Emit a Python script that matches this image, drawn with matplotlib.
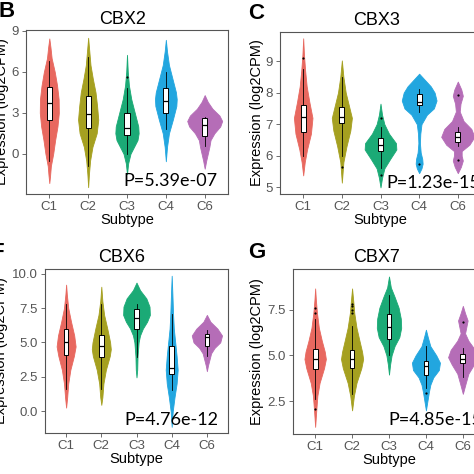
import matplotlib
matplotlib.use("Agg")
import matplotlib.pyplot as plt
import numpy as np

plt.rcParams['font.family'] = ['Liberation Sans', 'DejaVu Sans']

subtypes = ["C1", "C2", "C3", "C4", "C6"]
colors = ["#E8685F", "#A5A020", "#1BAA76", "#22A6DF", "#B56DB7"]

# ---------------- CBX2 ----------------
cbx2_y = [
    [8.45, 7.8, 7.0, 6.0, 5.0, 4.0, 3.0, 2.0, 1.0, 0.0, -0.9, -1.6, -2.15],
    [8.5, 7.5, 6.5, 5.5, 4.5, 3.5, 2.5, 1.5, 0.5, -0.5, -1.5, -2.45],
    [7.25, 6.0, 5.0, 4.0, 3.0, 2.0, 1.5, 1.0, 0.5, 0.0, -0.7, -1.5],
    [8.35, 7.5, 6.5, 5.5, 4.5, 4.0, 3.5, 2.5, 1.5, 0.5, -0.55],
    [4.3, 3.8, 3.3, 2.8, 2.4, 2.0, 1.5, 1.0, 0.5, 0.0, -0.5, -1.1],
]
cbx2_w = [
    [0, 0.03, 0.06, 0.14, 0.20, 0.24, 0.245, 0.21, 0.15, 0.10, 0.04, 0.02, 0],
    [0, 0.03, 0.06, 0.12, 0.19, 0.23, 0.26, 0.22, 0.11, 0.05, 0.02, 0],
    [0, 0.02, 0.05, 0.11, 0.20, 0.29, 0.30, 0.27, 0.18, 0.09, 0.03, 0],
    [0, 0.03, 0.08, 0.17, 0.26, 0.28, 0.27, 0.18, 0.08, 0.03, 0],
    [0, 0.08, 0.20, 0.38, 0.45, 0.40, 0.25, 0.15, 0.12, 0.08, 0.04, 0],
]
cbx2_q1 = [2.45, 1.9, 1.4, 3.0, 1.3]
cbx2_med = [3.7, 2.9, 1.9, 3.9, 2.1]
cbx2_q3 = [4.9, 4.2, 3.0, 4.8, 2.6]
cbx2_lo = [-0.5, -0.9, 0.0, 1.8, 0.6]
cbx2_hi = [6.8, 7.1, 4.8, 6.0, 2.7]
cbx2_out = [[], [], [5.6], [], []]

# ---------------- CBX3 ----------------
cbx3_y = [
    [9.72, 9.2, 8.7, 8.2, 7.7, 7.2, 6.7, 6.2, 5.8, 5.38],
    [9.02, 8.5, 8.0, 7.5, 7.2, 6.8, 6.3, 5.8, 5.15],
    [7.65, 7.3, 7.0, 6.7, 6.4, 6.2, 5.9, 5.6, 5.3, 5.0],
    [8.6, 8.4, 8.2, 8.0, 7.75, 7.5, 7.3, 7.0, 6.7, 6.4, 6.1, 5.9, 5.75, 5.6, 5.45],
    [8.35, 8.1, 7.9, 7.65, 7.4, 7.1, 6.85, 6.6, 6.35, 6.15, 6.0, 5.85, 5.65, 5.45],
]
cbx3_w = [
    [0, 0.02, 0.05, 0.09, 0.16, 0.24, 0.20, 0.10, 0.04, 0],
    [0, 0.04, 0.10, 0.20, 0.26, 0.22, 0.12, 0.04, 0],
    [0, 0.04, 0.10, 0.22, 0.40, 0.41, 0.25, 0.10, 0.04, 0],
    [0, 0.15, 0.30, 0.40, 0.45, 0.38, 0.20, 0.06, 0.03, 0.02, 0.04, 0.08, 0.09, 0.06, 0],
    [0, 0.09, 0.13, 0.07, 0.05, 0.15, 0.35, 0.43, 0.30, 0.10, 0.10, 0.13, 0.08, 0],
]
cbx3_q1 = [6.75, 7.05, 6.15, 7.6, 6.45]
cbx3_med = [7.22, 7.22, 6.35, 7.7, 6.6]
cbx3_q3 = [7.6, 7.55, 6.55, 7.95, 6.75]
cbx3_lo = [6.0, 6.0, 5.6, 7.4, 6.3]
cbx3_hi = [8.75, 8.5, 6.9, 8.1, 6.9]
cbx3_out = [[9.1], [5.65], [7.2, 5.4], [5.75], [7.92, 5.87]]

# ---------------- CBX6 ----------------
cbx6_y = [
    [9.2, 8.5, 7.5, 6.5, 5.5, 4.7, 4.0, 3.0, 2.0, 1.0, 0.25],
    [9.05, 8.0, 7.0, 6.0, 5.0, 4.5, 4.0, 3.0, 2.0, 1.0, 0.45],
    [9.35, 8.8, 8.2, 7.6, 7.0, 6.5, 6.0, 5.5, 5.0, 4.0, 3.0, 2.45],
    [9.85, 8.5, 7.0, 6.0, 5.0, 4.0, 3.0, 2.0, 1.0, 0.0, -1.15],
    [7.0, 6.5, 6.0, 5.5, 5.0, 4.6, 4.2, 3.7, 3.3, 2.9],
]
cbx6_w = [
    [0, 0.02, 0.06, 0.14, 0.23, 0.27, 0.22, 0.12, 0.06, 0.03, 0],
    [0, 0.03, 0.08, 0.17, 0.25, 0.27, 0.24, 0.13, 0.06, 0.03, 0],
    [0, 0.10, 0.28, 0.37, 0.38, 0.30, 0.18, 0.10, 0.06, 0.03, 0.02, 0],
    [0, 0.02, 0.04, 0.06, 0.10, 0.14, 0.17, 0.14, 0.08, 0.03, 0],
    [0, 0.10, 0.30, 0.43, 0.38, 0.22, 0.12, 0.07, 0.03, 0],
]
cbx6_q1 = [4.1, 3.9, 6.0, 2.7, 4.7]
cbx6_med = [5.05, 4.7, 6.8, 3.1, 5.4]
cbx6_q3 = [6.0, 5.5, 7.45, 4.7, 5.6]
cbx6_lo = [1.6, 1.6, 3.9, 1.5, 4.0]
cbx6_hi = [7.8, 7.8, 7.8, 7.1, 5.9]
cbx6_out = [[], [], [], [], []]

# ---------------- CBX7 ----------------
cbx7_y = [
    [8.65, 8.0, 7.3, 6.5, 5.8, 5.2, 4.8, 4.3, 3.5, 2.8, 2.0, 1.1],
    [8.65, 8.0, 7.3, 6.5, 5.8, 5.2, 4.8, 4.3, 3.5, 2.8, 2.0],
    [9.3, 8.7, 8.2, 7.6, 7.0, 6.5, 6.0, 5.5, 5.0, 4.5, 3.95],
    [6.4, 6.0, 5.5, 5.0, 4.6, 4.2, 3.8, 3.4, 3.0, 2.5, 2.0],
    [7.7, 7.3, 6.9, 6.5, 6.2, 5.8, 5.3, 4.9, 4.5, 4.0, 3.5, 2.9],
]
cbx7_w = [
    [0, 0.02, 0.05, 0.10, 0.18, 0.26, 0.29, 0.24, 0.12, 0.06, 0.03, 0],
    [0, 0.03, 0.06, 0.12, 0.20, 0.27, 0.30, 0.25, 0.12, 0.05, 0],
    [0, 0.05, 0.15, 0.26, 0.32, 0.33, 0.28, 0.15, 0.07, 0.03, 0],
    [0, 0.05, 0.12, 0.28, 0.38, 0.35, 0.20, 0.12, 0.08, 0.04, 0],
    [0, 0.06, 0.13, 0.09, 0.06, 0.15, 0.33, 0.40, 0.30, 0.15, 0.08, 0],
]
cbx7_q1 = [4.25, 4.3, 5.9, 3.95, 4.6]
cbx7_med = [4.8, 4.8, 6.55, 4.4, 4.8]
cbx7_q3 = [5.35, 5.3, 7.25, 4.7, 5.1]
cbx7_lo = [2.6, 2.9, 5.0, 3.2, 3.8]
cbx7_hi = [7.0, 6.6, 8.3, 5.5, 5.4]
cbx7_out = [[7.3, 7.6, 2.1], [7.3, 7.5, 7.7, 7.8], [], [2.95], [6.8]]

panels = [
    dict(gene="CBX2", label="B", y=cbx2_y, w=cbx2_w, q1=cbx2_q1, med=cbx2_med, q3=cbx2_q3,
         lo=cbx2_lo, hi=cbx2_hi, out=cbx2_out, p="P=5.39e-07",
         rect=(26, 194, 202, 164), ylim=(-2.95, 9.07), yticks=[0, 3, 6, 9], yfmt="{:.0f}",
         ylab_off=-17, ptxt=(0.95, 0.046, 'right'), title_xy=(123, 19.5), lab_xy=(-2, 1)),
    dict(gene="CBX3", label="C", y=cbx3_y, w=cbx3_w, q1=cbx3_q1, med=cbx3_med, q3=cbx3_q3,
         lo=cbx3_lo, hi=cbx3_hi, out=cbx3_out, p="P=1.23e-15",
         rect=(280, 194, 201, 162), ylim=(4.79, 9.92), yticks=[5, 6, 7, 8, 9], yfmt="{:.0f}",
         ylab_off=-16, ptxt=(0.527, 0.037, 'left'), title_xy=(377, 20.5), lab_xy=(248, 3)),
    dict(gene="CBX6", label="F", y=cbx6_y, w=cbx6_w, q1=cbx6_q1, med=cbx6_med, q3=cbx6_q3,
         lo=cbx6_lo, hi=cbx6_hi, out=cbx6_out, p="P=4.76e-12",
         rect=(45, 433, 183, 164), ylim=(-1.6, 10.34), yticks=[0, 2.5, 5, 7.5, 10], yfmt="{:.1f}",
         ylab_off=-37, ptxt=(0.945, 0.049, 'right'), title_xy=(122, 258), lab_xy=(-9, 242)),
    dict(gene="CBX7", label="G", y=cbx7_y, w=cbx7_w, q1=cbx7_q1, med=cbx7_med, q3=cbx7_q3,
         lo=cbx7_lo, hi=cbx7_hi, out=cbx7_out, p="P=4.85e-15",
         rect=(293, 434, 192, 165), ylim=(0.71, 9.71), yticks=[2.5, 5, 7.5], yfmt="{:.1f}",
         ylab_off=-29, ptxt=(0.495, 0.057, 'left'), title_xy=(376, 258), lab_xy=(248, 242)),
]

W = H = 474
fig = plt.figure(figsize=(4.74, 4.74), dpi=100)
fig.patch.set_facecolor("white")

frame_col = "#555555"
tick_col = "#555555"
positions = np.arange(1, len(subtypes) + 1)

for P in panels:
    l, b, w, h = P["rect"]
    ax = fig.add_axes([l / W, 1 - b / H, w / W, h / H])
    # violins
    vp = []
    widths = []
    for yy, ww in zip(P["y"], P["w"]):
        vp.append(dict(coords=np.array(yy, float), vals=np.array(ww, float),
                       mean=0, median=0, min=min(yy), max=max(yy)))
        widths.append(2 * max(ww))
    parts = ax.violin(vp, positions=positions, widths=widths,
                      showmeans=False, showextrema=False, showmedians=False)
    for body, c in zip(parts["bodies"], colors):
        body.set_facecolor(c)
        body.set_edgecolor(c)
        body.set_linewidth(0.6)
        body.set_alpha(1)
    # boxes
    stats = []
    for i in range(len(subtypes)):
        stats.append(dict(med=P["med"][i], q1=P["q1"][i], q3=P["q3"][i],
                          whislo=P["lo"][i], whishi=P["hi"][i], fliers=P["out"][i]))
    ax.bxp(stats, positions=positions, widths=0.13, showcaps=False, patch_artist=True,
           boxprops=dict(facecolor="white", edgecolor="black", linewidth=0.7),
           medianprops=dict(color="black", linewidth=0.9),
           whiskerprops=dict(color="black", linewidth=0.6),
           flierprops=dict(marker="o", markersize=1.6, markerfacecolor="black",
                           markeredgecolor="none"),
           manage_ticks=False)
    ax.set_xlim(0.4, 5.6)
    ax.set_ylim(*P["ylim"])
    ax.set_xticks(positions)
    ax.set_xticklabels(subtypes)
    ax.set_yticks(P["yticks"])
    ax.set_yticklabels([P["yfmt"].format(v) for v in P["yticks"]])
    ax.tick_params(axis="both", length=3, width=0.6, color=tick_col, labelcolor=tick_col,
                   labelsize=9.5, pad=2)
    for s in ax.spines.values():
        s.set_color(frame_col)
        s.set_linewidth(0.8)
    ax.set_xlabel("Subtype", fontsize=10.5, color="black")
    ax.xaxis.set_label_coords(0.5, -19 / h)
    ax.set_ylabel("Expression (log2CPM)", fontsize=10.5, color="black")
    ax.yaxis.set_label_coords(P["ylab_off"] / w, 0.5)
    px, py, pha = P["ptxt"]
    ax.text(px, py, P["p"], transform=ax.transAxes, ha=pha, va="baseline",
            fontsize=13, family=["Lato", "DejaVu Sans"], color="black")
    tx, ty = P["title_xy"]
    fig.text(tx / W, 1 - ty / H, P["gene"], ha="center", va="center", fontsize=13, color="black")
    lx, ly = P["lab_xy"]
    fig.text(lx / W, 1 - ly / H, P["label"], ha="left", va="top", fontsize=16,
             fontweight="bold", color="black")

fig.savefig("out.png", dpi=100, facecolor="white")
